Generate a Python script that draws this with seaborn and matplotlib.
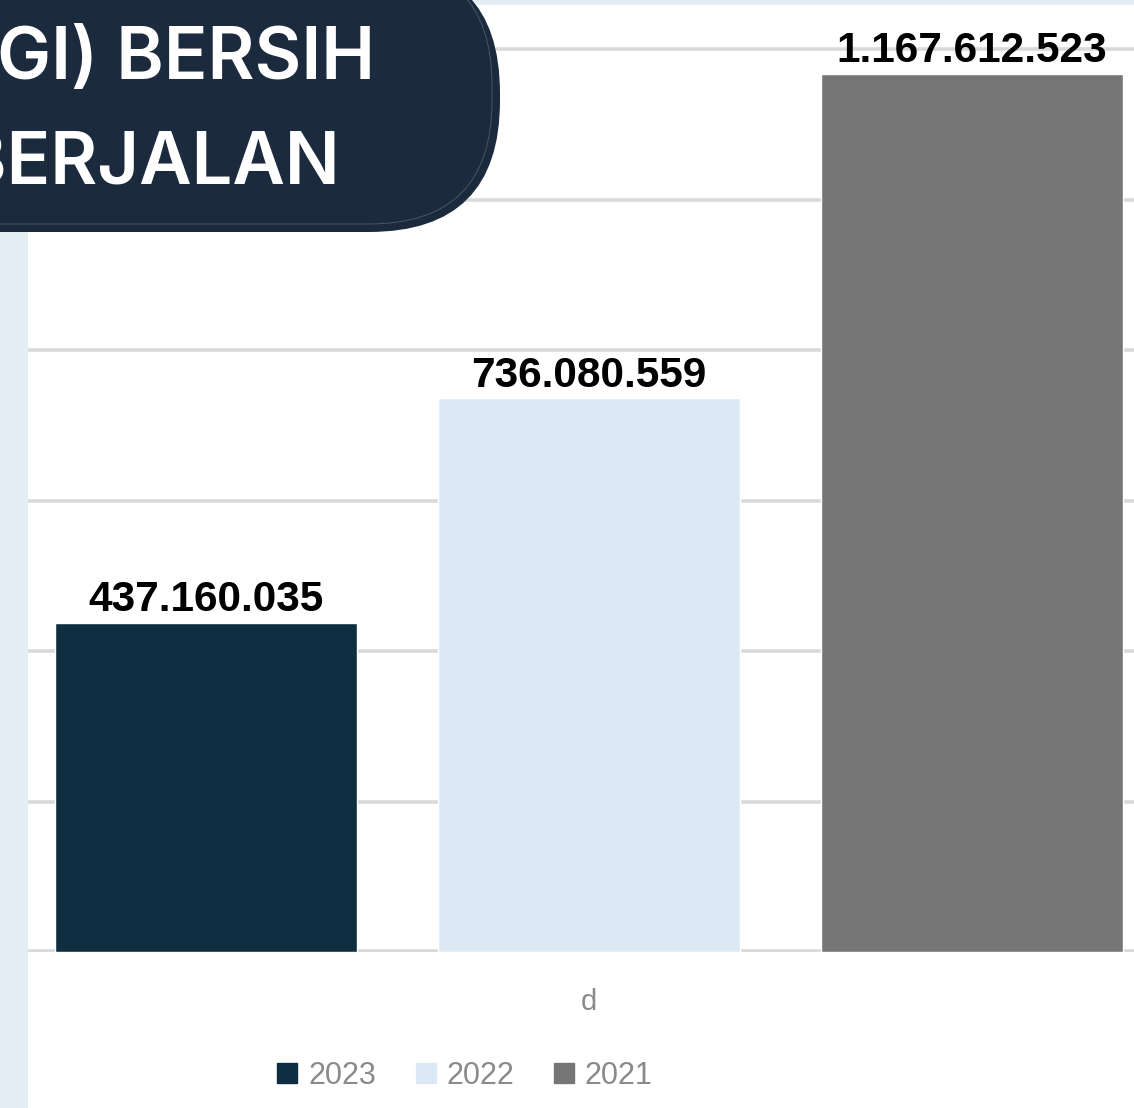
import numpy as np
import pandas as pd
import matplotlib
matplotlib.use('Agg')
import matplotlib.pyplot as plt
import seaborn as sns
from matplotlib.patches import FancyBboxPatch, Rectangle
from matplotlib.transforms import IdentityTransform
from matplotlib.lines import Line2D

## data
category = ['d', 'd', 'd']
years = ['2023', '2022', '2021']
values = [437160035, 736080559, 1167612523]
bar_colors = ['#0e2f42', '#dce9f5', '#767676']
title_lines = ['(RUGI) BERSIH', 'TAHUN BERJALAN']

df = pd.DataFrame({'cat': category, 'year': years, 'value': values})

sns.set_theme(style='white')
plt.rcParams['font.family'] = ['Liberation Sans', 'DejaVu Sans']

W, H = 1134, 1108
fig = plt.figure(figsize=(W / 100, H / 100), dpi=100)
fig.patch.set_facecolor('white')

# axes: left edge at 28px, baseline at 952px from top
ax = fig.add_axes([28 / W, (H - 952) / H, 1 - 28 / W, 952 / H])
ax.set_zorder(0)

sns.barplot(data=df, x='cat', y='value', hue='year', hue_order=years,
            palette=bar_colors, width=0.8, gap=0.21, saturation=1,
            legend=False, ax=ax)

ax.set_xlim(-0.3907, 0.3795)
ax.set_ylim(0, 952 * 1.3295e6)
ax.set_yticks(np.arange(0, 1400e6, 200e6))
ax.yaxis.grid(True, color='#d9d9d9', linewidth=2.6)
ax.set_axisbelow(True)
ax.axhline(0, color='#d9d9d9', linewidth=4, zorder=0.5)
for s in ax.spines.values():
    s.set_visible(False)
ax.set_yticklabels([])
ax.tick_params(axis='y', length=0)
ax.tick_params(axis='x', length=0, pad=26, labelsize=21, labelcolor='#8a8a8a')
ax.set_xlabel('')
ax.set_ylabel('')

# value labels above bars
for cont in ax.containers:
    labs_ = [f"{int(v):,}".replace(',', '.') for v in cont.datavalues]
    ax.bar_label(cont, labels=labs_, padding=2, fontsize=30.5, fontweight='bold',
                 color='black')

# legend
handles = [Line2D([0], [0], marker='s', linestyle='', markersize=15,
                  markerfacecolor=c, markeredgecolor=c) for c in bar_colors]
fig.legend(handles, years, loc='center', bbox_to_anchor=(464 / W, 1 - 1076 / H),
           ncol=3, frameon=False, fontsize=22, labelcolor='#8a8a8a',
           handletextpad=0.3, columnspacing=1.2, handlelength=0.8)

# light blue strips
fig.patches.append(Rectangle((0, 0), 28, H, transform=IdentityTransform(),
                             facecolor='#e2edf4', edgecolor='none', zorder=1))
fig.patches.append(Rectangle((0, H - 5), W, 5, transform=IdentityTransform(),
                             facecolor='#e2edf4', edgecolor='none', zorder=1))

# dark title pill
fig.patches.append(FancyBboxPatch((-400, H - 232), 900, 270,
                                  boxstyle='round,pad=0,rounding_size=131',
                                  transform=IdentityTransform(),
                                  facecolor='#1c2a3e', edgecolor='none', zorder=2))
fig.patches.append(FancyBboxPatch((-400, H - 224), 892, 262,
                                  boxstyle='round,pad=0,rounding_size=123',
                                  transform=IdentityTransform(),
                                  facecolor='none', edgecolor='#46566b',
                                  linewidth=0.7, zorder=3))

fig.text(375 / W, 1 - 60 / H, title_lines[0], ha='right', va='center',
         fontsize=52, fontweight='semibold', color='white', family='Inter', zorder=4)
fig.text(340 / W, 1 - 165 / H, title_lines[1], ha='right', va='center',
         fontsize=52, fontweight='semibold', color='white', family='Inter', zorder=4)

fig.savefig('out.png', dpi=100)
